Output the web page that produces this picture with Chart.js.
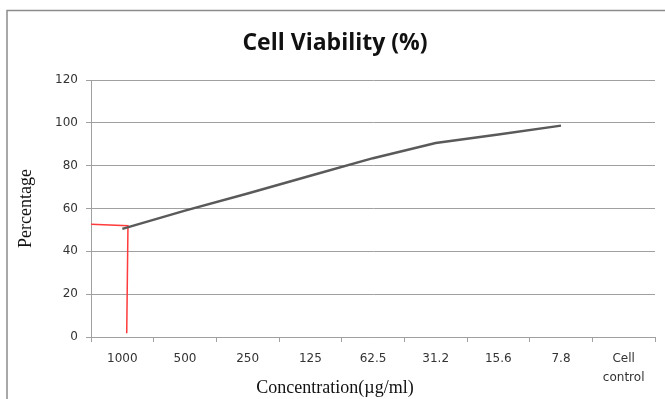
<!DOCTYPE html>
<html>
<head>
<meta charset="utf-8">
<script src="https://cdn.jsdelivr.net/npm/chart.js@4/dist/chart.umd.min.js"></script>
<style>
  html, body { margin: 0; padding: 0; background: #ffffff; }
  canvas { display: block; }
</style>
</head>
<body>
<canvas id="c" width="665" height="399"></canvas>
<script>
// ---- data ----
const categories = ["1000", "500", "250", "125", "62.5", "31.2", "15.6", "7.8", ["Cell", "control"]];
const viability = [50.5, 59, 67, 75.3, 83.5, 90.6, 94.6, 98.7, null];
// red IC50 guide line (category index units, percentage)
const guideX = [-0.5, 0.09, 0.07];
const guideY = [52.6, 52.0, 1.8];
const yTicks = { min: 0, max: 120, step: 20 };

const titleText = "Cell Viability (%)";
const xTitleText = "Concentration(\u00b5g/ml)";
const yTitleText = "Percentage";

const gridColor = "#a0a0a0";

const framePlugin = {
  id: "frame",
  beforeDraw(chart) {
    const ctx = chart.ctx;
    ctx.save();
    ctx.fillStyle = "#ffffff";
    ctx.fillRect(0, 0, chart.width, chart.height);
    ctx.strokeStyle = "#8c8c8c";
    ctx.lineWidth = 1.5;
    ctx.beginPath();
    ctx.moveTo(7, chart.height);
    ctx.lineTo(7, 10.5);
    ctx.lineTo(chart.width, 10.5);
    ctx.stroke();
    ctx.restore();
  }
};

new Chart(document.getElementById("c"), {
  type: "line",
  data: {
    labels: categories,
    datasets: [
      {
        label: "Cell Viability",
        data: viability,
        borderColor: "#5a5a5a",
        borderWidth: 2.5,
        pointRadius: 0,
        tension: 0,
        fill: false
      },
      {
        label: "guide",
        data: guideX.map((x, i) => ({ x: x, y: guideY[i] })),
        xAxisID: "x2",
        borderColor: "#ff3b3b",
        borderWidth: 1.5,
        pointRadius: 0,
        tension: 0,
        fill: false
      }
    ]
  },
  options: {
    responsive: false,
    animation: false,
    devicePixelRatio: 1,
    layout: { padding: { left: 15, right: 10, top: 0, bottom: 0 } },
    plugins: {
      legend: { display: false },
      tooltip: { enabled: false },
      title: {
        display: true,
        text: titleText,
        color: "#111111",
        font: { family: "Open Sans", size: 23, weight: "bold", lineHeight: 1.2 },
        padding: { top: 29.2, bottom: 23.2 }
      },
      subtitle: {
        display: true,
        position: "bottom",
        text: xTitleText,
        color: "#111111",
        font: { family: "Liberation Serif", size: 18, lineHeight: 1.2 },
        padding: { top: -9.6, bottom: 0 }
      }
    },
    scales: {
      x: {
        type: "category",
        offset: true,
        grid: {
          offset: true,
          drawOnChartArea: false,
          drawTicks: true,
          tickLength: 5,
          color: gridColor
        },
        border: { color: gridColor, width: 1 },
        ticks: {
          color: "#333333",
          padding: 8,
          maxRotation: 0,
          autoSkip: false,
          font: { family: "DejaVu Sans", size: 12, lineHeight: 1.55 }
        },
        afterFit(scale) { scale.height = 50; }
      },
      x2: {
        type: "linear",
        display: false,
        min: -0.5,
        max: categories.length - 0.5
      },
      y: {
        min: yTicks.min,
        max: yTicks.max,
        ticks: {
          stepSize: yTicks.step,
          color: "#333333",
          padding: 8,
          font: { family: "DejaVu Sans", size: 12 }
        },
        grid: {
          color: gridColor,
          drawTicks: true,
          tickLength: 5
        },
        border: { color: gridColor, width: 1 },
        title: {
          display: true,
          text: yTitleText,
          color: "#111111",
          font: { family: "Liberation Serif", size: 18, lineHeight: 1.2 },
          padding: { top: 0, bottom: 0 }
        },
        afterFit(scale) { scale.width = 76; }
      }
    }
  },
  plugins: [framePlugin]
});
</script>
</body>
</html>
